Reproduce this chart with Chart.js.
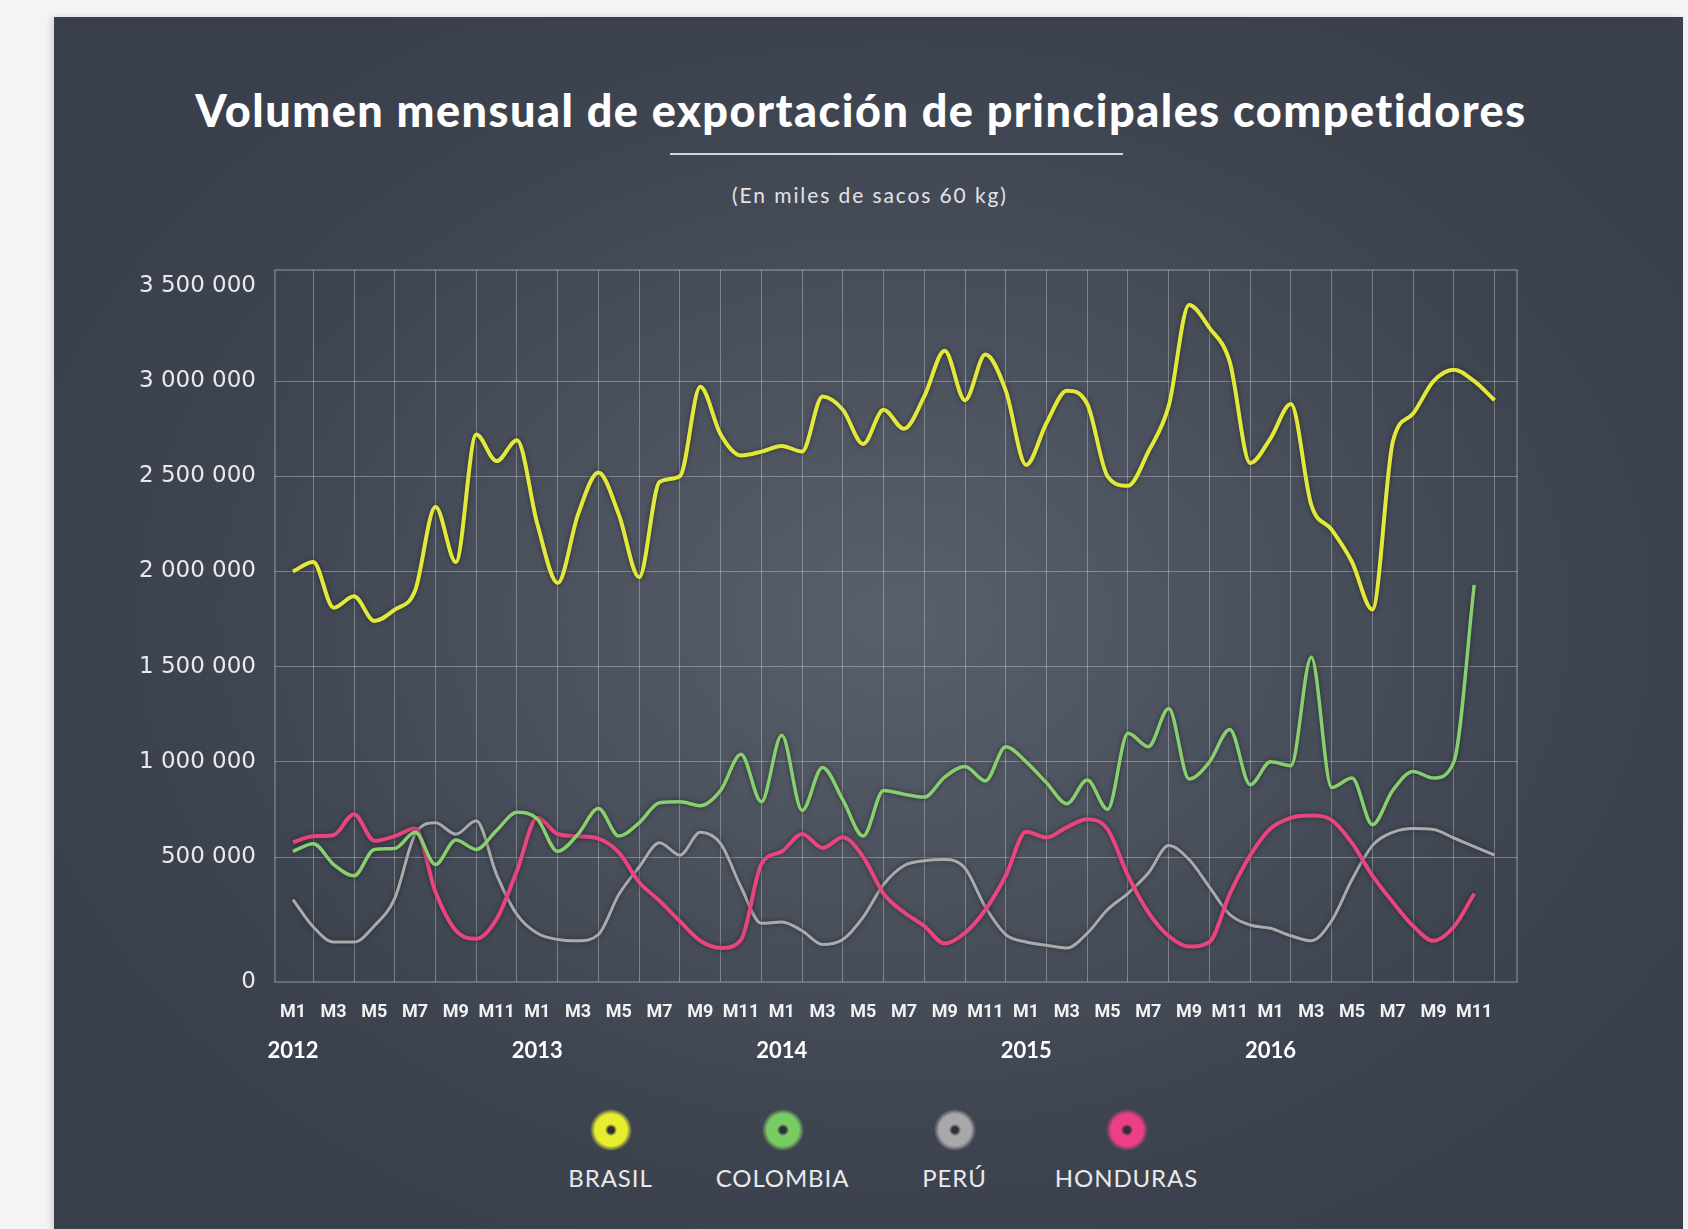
<!DOCTYPE html>
<html lang="es">
<head>
<meta charset="utf-8">
<title>Volumen mensual de exportación de principales competidores</title>
<script src="https://cdn.jsdelivr.net/npm/chart.js@4.4.1/dist/chart.umd.min.js"></script>
<style>
  html, body { margin: 0; padding: 0; }
  body { width: 1688px; height: 1229px; background: #f3f4f3; position: relative; overflow: hidden; font-family: Lato, "Open Sans", sans-serif; }
  #panel { position: absolute; left: 54px; top: 17px; width: 1629px; height: 1240px;
    background: radial-gradient(ellipse 950px 720px at 840px 600px, #5a606b 0%, #4b515c 40%, #3e444f 75%, #3a404b 100%);
    box-shadow: -3px 0 6px rgba(0, 0, 0, 0.12); }
  #titulo { position: absolute; left: 861px; top: 85px; transform: translateX(-50%); white-space: nowrap;
    font: 900 45px/50px Lato, sans-serif; letter-spacing: 1.5px; color: #fff; }
  #raya { position: absolute; left: 670px; top: 153px; width: 453px; height: 2px; background: #d4d6da; }
  #subtitulo { position: absolute; left: 870px; top: 183px; transform: translateX(-50%); white-space: nowrap;
    font: 400 21px/24px Lato, sans-serif; letter-spacing: 1.9px; color: #e2e3e6; }
  #grafico { position: absolute; left: 120px; top: 250px; width: 1420px; height: 830px; }
  #leyenda { position: absolute; left: 54px; width: 1629px; top: 1108px; display: flex; justify-content: center; }
  .item { width: 172px; text-align: center; }
  .punto { width: 44px; height: 44px; margin: 0 auto 12px; border-radius: 50%; }
  .nombre { font: 400 24px/28px Lato, sans-serif; letter-spacing: 0.9px; color: #e8e9ec; }
</style>
</head>
<body>
<div id="panel"></div>
<div id="titulo">Volumen mensual de exportación de principales competidores</div>
<div id="raya"></div>
<div id="subtitulo">(En miles de sacos 60 kg)</div>
<div id="grafico"><canvas id="lienzo"></canvas></div>
<div id="leyenda"></div>

<script>
(function () {
  "use strict";

  var MESES = ["M1", "M2", "M3", "M4", "M5", "M6", "M7", "M8", "M9", "M10", "M11", "M12"];
  var ANIOS = ["2012", "2013", "2014", "2015", "2016"];
  var MARCAS_Y = [0, 500000, 1000000, 1500000, 2000000, 2500000, 3000000, 3500000];

  // sacos de 60 kg por mes, ene 2012 - dic 2016
  var BRASIL = [
    2000000, 2050000, 1810000, 1870000, 1740000, 1800000, 1900000, 2340000, 2050000, 2720000, 2580000, 2690000,
    2250000, 1940000, 2300000, 2520000, 2300000, 1970000, 2470000, 2500000, 2970000, 2720000, 2610000, 2630000,
    2660000, 2630000, 2920000, 2850000, 2670000, 2850000, 2750000, 2920000, 3160000, 2900000, 3140000, 2950000,
    2560000, 2780000, 2950000, 2880000, 2500000, 2450000, 2630000, 2870000, 3400000, 3280000, 3100000, 2570000,
    2700000, 2880000, 2350000, 2220000, 2050000, 1800000, 2680000, 2830000, 3000000, 3060000, 3000000, 2900000
  ];
  var COLOMBIA = [
    530000, 570000, 470000, 425000, 540000, 545000, 630000, 470000, 590000, 540000, 640000, 735000,
    700000, 530000, 620000, 755000, 610000, 680000, 785000, 790000, 770000, 850000, 1040000, 790000,
    1140000, 745000, 970000, 800000, 610000, 850000, 830000, 815000, 920000, 975000, 900000, 1080000,
    1000000, 890000, 780000, 905000, 750000, 1150000, 1080000, 1280000, 910000, 1000000, 1170000, 880000,
    1000000, 980000, 1550000, 865000, 915000, 670000, 850000, 950000, 915000, 1000000, 1930000, null
  ];
  var PERU = [
    330000, 220000, 160000, 160000, 225000, 335000, 620000, 680000, 620000, 690000, 430000, 270000,
    195000, 170000, 165000, 190000, 350000, 460000, 575000, 510000, 630000, 570000, 380000, 235000,
    240000, 205000, 150000, 170000, 260000, 390000, 465000, 485000, 490000, 455000, 300000, 190000,
    160000, 147000, 136000, 195000, 290000, 355000, 436000, 560000, 490000, 380000, 270000, 228000,
    215000, 185000, 165000, 245000, 410000, 560000, 630000, 650000, 645000, 600000, 555000, 510000
  ];
  var HONDURAS = [
    578000, 609000, 616000, 725000, 585000, 610000, 650000, 360000, 206000, 173000, 252000, 445000,
    706000, 621000, 609000, 597000, 524000, 399000, 325000, 243000, 165000, 136000, 169000, 472000,
    529000, 621000, 548000, 604000, 500000, 353000, 279000, 224000, 154000, 197000, 289000, 426000,
    633000, 602000, 657000, 699000, 645000, 426000, 279000, 184000, 142000, 160000, 353000, 509000,
    650000, 706000, 718000, 694000, 573000, 426000, 320000, 224000, 165000, 221000, 353000, null
  ];

  var REJILLA = "rgba(255, 255, 255, 0.30)";
  var TEXTO = "#e8e9ec";

  // eje vertical del original: el tramo 0-500 000 ocupa más alto que los demás
  var TRAMO = 500000;
  var ALTO_PRIMERO = 1.313;
  function unidades(v) {
    if (v <= TRAMO) return v / TRAMO * ALTO_PRIMERO;
    return ALTO_PRIMERO + (v - TRAMO) / TRAMO;
  }
  function deUnidades(u) {
    if (u <= ALTO_PRIMERO) return u / ALTO_PRIMERO * TRAMO;
    return TRAMO + (u - ALTO_PRIMERO) * TRAMO;
  }

  class EjeTramos extends Chart.LinearScale {
    getPixelForValue(v) {
      if (v === null || v === undefined) return NaN;
      var a = unidades(this.min), b = unidades(this.max);
      return this.getPixelForDecimal((unidades(v) - a) / (b - a));
    }
    getValueForPixel(p) {
      var a = unidades(this.min), b = unidades(this.max);
      return deUnidades(a + this.getDecimalForPixel(p) * (b - a));
    }
  }
  EjeTramos.id = "tramos";
  EjeTramos.defaults = Chart.LinearScale.defaults;
  Chart.register(EjeTramos);

  function miles(v) {
    return String(v).replace(/\B(?=(\d{3})+(?!\d))/g, " ");
  }

  function puntos(arr) {
    return arr.map(function (v, i) { return { x: i, y: v }; });
  }

  function serie(nombre, arr, color, ancho, orden, punto) {
    return {
      label: nombre, data: puntos(arr), borderColor: color, borderWidth: ancho,
      pointRadius: 0, cubicInterpolationMode: "monotone", spanGaps: false,
      xAxisID: "x", yAxisID: "y", order: orden, colorPunto: punto
    };
  }

  var indices = BRASIL.map(function (v, i) { return i; });

  var marco = {
    id: "marco",
    beforeDatasetsDraw: function (chart) {
      var a = chart.chartArea, c = chart.ctx;
      c.save();
      c.strokeStyle = REJILLA;
      c.lineWidth = 1.5;
      c.strokeRect(a.left, a.top, a.right - a.left, a.bottom - a.top);
      c.restore();
    }
  };

  var sombra = {
    id: "sombra",
    beforeDatasetDraw: function (chart) {
      var c = chart.ctx;
      c.save();
      c.shadowColor = "rgba(20, 24, 30, 0.6)";
      c.shadowBlur = 5;
    },
    afterDatasetDraw: function (chart) {
      chart.ctx.restore();
    }
  };

  var grafico = new Chart(document.getElementById("lienzo"), {
    type: "line",
    data: {
      datasets: [
        serie("BRASIL", BRASIL, "#e3e93b", 4, 1, "#e6ee2e"),
        serie("COLOMBIA", COLOMBIA, "#88d06f", 3.5, 2, "#78cc63"),
        serie("PERÚ", PERU, "#a9aaad", 3, 4, "#a8a8a8"),
        serie("HONDURAS", HONDURAS, "#e8457f", 4, 3, "#ec3f86")
      ]
    },
    options: {
      responsive: true,
      maintainAspectRatio: false,
      animation: false,
      layout: { padding: { top: 20, right: 23, bottom: 0, left: 0 } },
      plugins: { legend: { display: false }, tooltip: { enabled: false } },
      scales: {
        x: {
          type: "linear", min: -0.88, max: 60.1,
          afterBuildTicks: function (s) { s.ticks = indices.map(function (i) { return { value: i }; }); },
          afterFit: function (s) { s.height = 48; },
          grid: {
            drawTicks: false,
            color: function (c) { return c.index % 2 ? REJILLA : "transparent"; }
          },
          border: { display: false },
          ticks: {
            autoSkip: false, maxRotation: 0, padding: 20, color: "#f2f2f2",
            font: { family: "'Liberation Sans Narrow', 'Roboto', sans-serif", size: 18, weight: "bold" },
            callback: function (v) { return v % 2 ? "" : MESES[v % 12]; }
          }
        },
        anio: {
          type: "linear", position: "bottom", min: -0.88, max: 60.1,
          afterBuildTicks: function (s) { s.ticks = ANIOS.map(function (a, k) { return { value: k * 12 }; }); },
          afterFit: function (s) { s.height = 50; },
          grid: { display: false, drawTicks: false },
          border: { display: false },
          ticks: {
            autoSkip: false, maxRotation: 0, padding: 8, color: "#ffffff",
            font: { family: "Lato, sans-serif", size: 22, weight: "bold" },
            callback: function (v) { return ANIOS[v / 12]; }
          }
        },
        y: {
          type: "tramos", min: 0, max: 3584000,
          afterBuildTicks: function (s) { s.ticks = MARCAS_Y.map(function (v) { return { value: v }; }); },
          afterFit: function (s) { s.width = 155; s.paddingTop = 0; s.paddingBottom = 0; },
          grid: {
            drawTicks: false,
            color: function (c) {
              var v = c.tick ? c.tick.value : 0;
              return v === 0 || v === 3500000 ? "transparent" : REJILLA;
            }
          },
          border: { display: false },
          ticks: {
            padding: 19, color: TEXTO,
            font: { family: "'DejaVu Sans', sans-serif", size: 23 },
            callback: function (v) { return miles(v); }
          }
        }
      }
    },
    plugins: [marco, sombra]
  });

  var leyenda = document.getElementById("leyenda");
  grafico.data.datasets.forEach(function (ds) {
    var item = document.createElement("div");
    item.className = "item";
    var p = document.createElement("div");
    p.className = "punto";
    p.style.background = "radial-gradient(circle, #2c3038 0, #2c3038 3px, " + ds.colorPunto + " 6px, " +
      ds.colorPunto + " 16px, transparent 21px)";
    var n = document.createElement("div");
    n.className = "nombre";
    n.textContent = ds.label;
    item.appendChild(p);
    item.appendChild(n);
    leyenda.appendChild(item);
  });
})();
</script>
</body>
</html>
